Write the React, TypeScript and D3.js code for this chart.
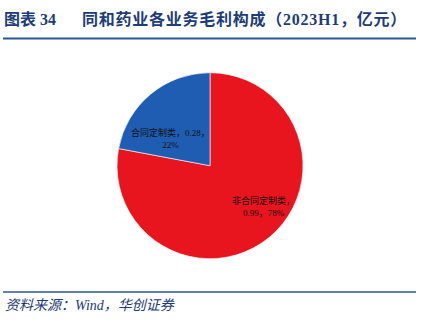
import React from "react";
import * as d3 from "d3";

const categories = ["非合同定制类", "合同定制类"];
const values = [0.99, 0.28];
const shares = ["78%", "22%"];
const colors = ["#E8141E", "#1F5DB2"];

const titleLead = "图表 34";
const titleMain = "同和药业各业务毛利构成（2023H1，亿元）";
const source = "资料来源：Wind，华创证券";

const W = 430;
const H = 329;
const cx = 210;
const cy = 165.7;
const R = 93;

export default function App() {
  const pie = d3.pie<number>().sort(null).value((d) => d)(values);
  const arc = d3.arc<d3.PieArcDatum<number>>().innerRadius(0).outerRadius(R);
  const labelArc = d3.arc<d3.PieArcDatum<number>>().innerRadius(R * 0.6).outerRadius(R * 0.6);
  const adjust = [
    { dx: 18, dy: -2 },
    { dx: -4, dy: 16 },
  ];
  const font = "'Liberation Serif', 'Noto Sans CJK SC', serif";
  return (
    <svg width={W} height={H} style={{ position: "absolute", left: 0, top: 0, background: "#fff" }}>
      <text y={25} fontSize={16} fontWeight="bold" fill="#1D3C78" fontFamily={font}>
        <tspan x={4}>{titleLead}</tspan>
        <tspan x={82} letterSpacing={0.75}>{titleMain}</tspan>
      </text>
      <line x1={3} x2={416} y1={38.5} y2={38.5} stroke="#2B5797" strokeWidth={2} />
      <g transform={`translate(${cx},${cy})`}>
        {pie.map((p, i) => (
          <path key={i} d={arc(p) || ""} fill={colors[i]} stroke="#fff" strokeWidth={0.6} />
        ))}
        {pie.map((p, i) => {
          const [x, y] = labelArc.centroid(p);
          const lx = x + adjust[i].dx;
          const ly = y + adjust[i].dy;
          const l1 = i === 1 ? `${categories[i]}，${values[i]}，` : `${categories[i]}，`;
          const l2 = i === 1 ? shares[i] : `${values[i]}，${shares[i]}`;
          return (
            <text key={"t" + i} textAnchor="middle" fontSize={9} fill="#111" fontFamily={font}>
              <tspan x={lx} y={ly - 3}>{l1}</tspan>
              <tspan x={lx} y={ly + 9}>{l2}</tspan>
            </text>
          );
        })}
      </g>
      <line x1={3} x2={416} y1={292} y2={292} stroke="#2B5797" strokeWidth={1.5} />
      <text x={5} y={310} fontSize={14} fontStyle="italic" fill="#1D3C78" fontFamily={font}>
        {source}
      </text>
    </svg>
  );
}
